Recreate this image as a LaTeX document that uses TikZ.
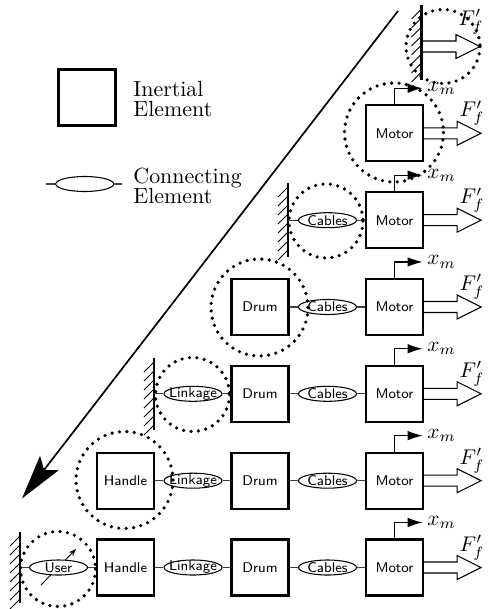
\documentclass[tikz,border=0pt]{standalone}
\usetikzlibrary{shapes.geometric,arrows.meta}
\newdimen\pxu \pxu=0.47pt
\tikzset{
 inert/.style={draw, line width=1pt, minimum width=57\pxu, minimum height=56\pxu, inner sep=0pt, font=\sffamily\fontsize{6.6}{7.5}\selectfont},
 conn/.style={ellipse, draw, line width=0.5pt, fill=white, minimum width=58\pxu, minimum height=15\pxu, inner sep=0pt},
 clab/.style={font=\sffamily\fontsize{6.6}{7.5}\selectfont, inner sep=0pt},
 wire/.style={line width=0.5pt, draw=black!75},
 wallline/.style={line width=1pt},
 hatch/.style={line width=0.4pt},
 dotc/.style={line width=1.7pt, dash pattern=on 0pt off 3.5pt, line cap=round},
 force/.style={line width=0.5pt, line join=miter},
 xmarrow/.style={line width=0.55pt, -{Latex[length=7pt,width=4.5pt]}},
 legtext/.style={font=\fontsize{10.3}{9.6}\selectfont, align=left, inner sep=0pt, anchor=west},
 flab/.style={inner sep=0pt},
}
\begin{document}
\begin{tikzpicture}[x=0.47pt,y=-0.47pt]
\useasboundingbox (0,0) rectangle (490,609);

% legend
\node[inert] (legbox) at (87,97.5) {};
\node[legtext] (legtxt1) at (133,99) {Inertial\\Element};
\coordinate (lgl) at (46,184);
\coordinate (lgr) at (122,184);
\node[conn] (legell) at (84.7,184) {};
\draw[wire] (lgl) -- (legell) -- (lgr);
\node[legtext] (legtxt2) at (133,186) {Connecting\\Element};

% big arrow
\coordinate (bigA) at (398,11);
\coordinate (bigB) at (22,498.5);
\draw[line width=0.8pt, -{Stealth[length=21pt,width=11pt,inset=4pt]}] (bigA) -- (bigB);

% walls
\foreach \wx/\wt/\wb in {421.5/5/80, 288/183/257, 154/358/430, 20/532/603} {
  \draw[wallline] (\wx,\wt) -- (\wx,\wb);
  \foreach \k in {0,...,7} {
    \draw[hatch] ({\wx},{\wt+4+9*\k}) -- ++(-10,10);
  }
}

% row 1
\coordinate (w1) at (421.5,46.5);
\draw[force] (w1) ++(0,-5.5) -- ++(34.5,0) -- ++(0,-6.5) -- ++(24,12) -- ++(-24,12) -- ++(0,-6.5) -- ++(-34.5,0);
\node[flab] (ff1) at (471,22) {$F'_f$};

% motors rows 2-7
\foreach \r/\y in {2/133.3,3/220.2,4/307,5/393.8,6/480.7,7/567.5} {
  \node[inert] (m\r) at (394.5,\y) {Motor};
  \draw[xmarrow] (m\r.north) -- ++(0,-16) -- ++(28,0) node[right, inner sep=2pt] (xm\r) {$x_m$};
  \draw[force] (m\r.east) ++(0,-5.5) -- ++(33,0) -- ++(0,-6.5) -- ++(24,12) -- ++(-24,12) -- ++(0,-6.5) -- ++(-33,0);
  \node[flab] (ff\r) at (472,\y-20) {$F'_f$};
}

% row 3
\coordinate (w3) at (288,220.2);
\node[conn, label={[clab]center:Cables}] (c3) at (327.5,220.2) {};
\draw[wire] (w3) -- (c3) -- (m3);

% row 4
\node[inert] (d4) at (260,307) {Drum};
\node[conn, label={[clab]center:Cables}] (c4) at (327.5,307) {};
\draw[wire] (d4) -- (c4) -- (m4);

% row 5
\coordinate (w5) at (154,393.8);
\node[conn, label={[clab]center:Linkage}] (l5) at (193,393.8) {};
\node[inert] (d5) at (260,393.8) {Drum};
\node[conn, label={[clab]center:Cables}] (c5) at (327.5,393.8) {};
\draw[wire] (w5) -- (l5) -- (d5) -- (c5) -- (m5);

% row 6
\node[inert] (h6) at (125.5,480.7) {Handle};
\node[conn, label={[clab]center:Linkage}] (l6) at (193,480.7) {};
\node[inert] (d6) at (260,480.7) {Drum};
\node[conn, label={[clab]center:Cables}] (c6) at (327.5,480.7) {};
\draw[wire] (h6) -- (l6) -- (d6) -- (c6) -- (m6);

% row 7
\coordinate (w7) at (20,567.5);
\coordinate (ua) at (41,585);
\coordinate (ub) at (76,549);
\draw[line width=0.4pt, -{Stealth[length=3.5pt,width=2.6pt]}] (ua) -- (ub);
\node[conn, label={[clab]center:User}] (u7) at (58.5,567.5) {};
\node[inert] (h7) at (125.5,567.5) {Handle};
\node[conn, label={[clab]center:Linkage}] (l7) at (193,567.5) {};
\node[inert] (d7) at (260,567.5) {Drum};
\node[conn, label={[clab]center:Cables}] (c7) at (327.5,567.5) {};
\draw[wire] (w7) -- (u7) -- (h7) -- (l7) -- (d7) -- (c7) -- (m7);

% dotted circles
\draw[dotc] (443,46.5) circle (37);
\draw[dotc] (394,132.5) circle (49.5);
\draw[dotc] (326,221) circle (37);
\draw[dotc] (259.5,307.5) circle (48.5);
\draw[dotc] (192.5,394.5) circle (37);
\draw[dotc] (124.5,480) circle (48.5);
\draw[dotc] (58,569) circle (37.5);
\end{tikzpicture}
\end{document}
